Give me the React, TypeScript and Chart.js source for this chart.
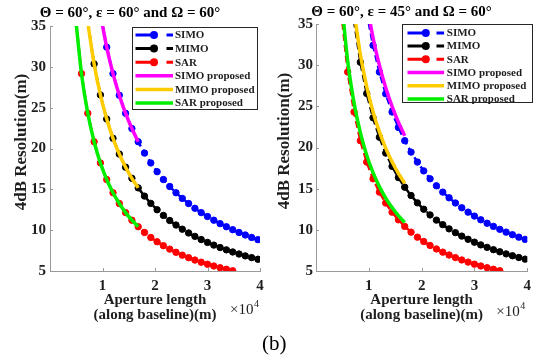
import { useEffect, useRef } from 'react';
import { Chart, registerables } from 'chart.js';

Chart.register(...registerables);

const FONT = '"Liberation Serif", "Times New Roman", serif';
const TEXT = '#1e1e1e';
const AXIS = '#9a9a9a';

// Aperture length along the baseline (×10^4 m)
const apertureLength = [
  0.48, 0.6, 0.72, 0.84, 0.96, 1.08, 1.2, 1.32, 1.44, 1.56, 1.68, 1.8, 1.92, 2.04, 2.16,
  2.28, 2.4, 2.52, 2.64, 2.76, 2.88, 3.0, 3.12, 3.24, 3.36, 3.48, 3.6, 3.72, 3.84, 3.96,
];

// Simulated 4 dB resolution (m); null where the value lies outside the plotted range
const simoResolution = [
  null, null, null, null, 36.46, 32.41, 29.17, 26.52, 24.31, 22.44, 20.83, 19.44, 18.23, 17.16, 16.2,
  15.35, 14.58, 13.89, 13.26, 12.68, 12.15, 11.67, 11.22, 10.8, 10.42, 10.06, 9.72, 9.41, 9.11, 8.84,
];
const mimoResolution = [
  null, null, 35.42, 30.36, 26.56, 23.61, 21.25, 19.32, 17.71, 16.35, 15.18, 14.17, 13.28, 12.5, 11.81,
  11.18, 10.63, 10.12, 9.66, 9.24, 8.85, 8.5, 8.17, 7.87, 7.59, 7.33, 7.08, 6.85, 6.64, 6.44,
];
const sarResolution = [
  36.46, 29.17, 24.31, 20.83, 18.23, 16.2, 14.58, 13.26, 12.15, 11.22, 10.42, 9.72, 9.11, 8.58, 8.1,
  7.68, 7.29, 6.94, 6.63, 6.34, 6.08, 5.83, 5.61, 5.4, 5.21, 5.03, null, null, null, null,
];

// Proposed closed-form resolution, ε = 60°
const simoProposedEps60 = [null, null, null, null, 36.46, 32.41, 29.17, 26.52, 24.31, 22.44, 20.83];
const mimoProposedEps60 = [null, null, 35.42, 30.36, 26.56, 23.61, 21.25, 19.32, 17.71, 16.35, 15.18];
const sarProposedEps60 = [36.46, 29.17, 24.31, 20.83, 18.23, 16.2, 14.58, 13.26, 12.15, 11.22, 10.42];

// Proposed closed-form resolution, ε = 45°
const simoProposedEps45 = [null, null, null, null, 37.5, 33.33, 30.0, 27.27, 25.0, 23.08, 21.43];
const mimoProposedEps45 = [null, null, 36.53, 31.31, 27.4, 24.35, 21.92, 19.92, 18.26, 16.86, 15.65];
const sarProposedEps45 = [38.13, 30.5, 25.42, 21.79, 19.06, 16.94, 15.25, 13.86, 12.71, 11.73, 10.89];

const seriesLabels = ['SIMO', 'MIMO', 'SAR', 'SIMO proposed', 'MIMO proposed', 'SAR proposed'];
const seriesColors = ['#0000ff', '#000000', '#ff0000', '#ff00ff', '#ffcc00', '#00ee00'];
const panelTitles = ['Θ = 60°, ε = 60° and Ω = 60°', 'Θ = 60°, ε = 45° and Ω = 60°'];
const xAxisTitle = ['Aperture length', '(along baseline)(m)'];
const yAxisTitle = '4dB Resolution(m)';
const xExponent = '4';
const yMin = 5;
const yMax = 35;
const yStep = 5;
const xMin = 0;
const xMax = 4;
const xStep = 1;

const toPoints = (values: (number | null)[]) =>
  values
    .map((v, i) => ({ x: apertureLength[i], y: v }))
    .filter((p) => p.y !== null) as { x: number; y: number }[];

// Short tick marks drawn inward from the axes
const innerTicks = {
  id: 'innerTicks',
  afterDatasetsDraw(chart: any) {
    const { ctx, chartArea: a, scales } = chart;
    const x = scales.x;
    const y = scales.y;
    ctx.save();
    ctx.strokeStyle = AXIS;
    ctx.lineWidth = 1;
    ctx.beginPath();
    x.ticks.forEach((t: any) => {
      const px = Math.round(x.getPixelForValue(t.value)) + 0.5;
      ctx.moveTo(px, a.bottom);
      ctx.lineTo(px, a.bottom - 3);
    });
    y.ticks.forEach((t: any) => {
      const py = Math.round(y.getPixelForValue(t.value)) + 0.5;
      ctx.moveTo(a.left, py);
      ctx.lineTo(a.left + 3, py);
    });
    ctx.stroke();
    ctx.restore();
  },
};

// Boxed legend inside the axes: marker series show "line–dot  dash", fitted curves a solid bar
const figureLegend = {
  id: 'figureLegend',
  afterDatasetsDraw(chart: any, _args: any, o: any) {
    const { ctx, chartArea: a } = chart;
    const bx = Math.round(a.left + o.dx) + 0.5;
    const by = Math.round(a.top + o.dy) + 0.5;
    ctx.save();
    ctx.fillStyle = '#ffffff';
    ctx.fillRect(bx, by, o.w, o.h);
    ctx.strokeStyle = '#262626';
    ctx.lineWidth = 1;
    ctx.strokeRect(bx, by, o.w, o.h);
    ctx.font = `bold 11px ${FONT}`;
    ctx.textBaseline = 'middle';
    ctx.textAlign = 'left';
    chart.data.datasets.forEach((ds: any, i: number) => {
      const yy = by + o.row0 + i * o.rowGap;
      const c = ds.borderColor;
      ctx.strokeStyle = c;
      ctx.fillStyle = c;
      ctx.lineCap = 'butt';
      if (ds.pointRadius > 0) {
        ctx.lineWidth = 3;
        ctx.beginPath();
        ctx.moveTo(bx + o.lineStart, yy);
        ctx.lineTo(bx + o.dotX, yy);
        ctx.moveTo(bx + o.dashStart, yy);
        ctx.lineTo(bx + o.lineEnd, yy);
        ctx.stroke();
        ctx.beginPath();
        ctx.arc(bx + o.dotX, yy, 4, 0, Math.PI * 2);
        ctx.fill();
      } else {
        ctx.lineWidth = 3.5;
        ctx.beginPath();
        ctx.moveTo(bx + o.lineStart, yy);
        ctx.lineTo(bx + o.lineEnd, yy);
        ctx.stroke();
      }
      ctx.fillStyle = TEXT;
      ctx.fillText(ds.label, bx + o.textX, yy + 0.5);
    });
    ctx.restore();
  },
};

// "×10^4" multiplier under the right end of the x axis
const exponentLabel = {
  id: 'exponentLabel',
  afterDraw(chart: any, _args: any, o: any) {
    const { ctx, chartArea: a } = chart;
    ctx.save();
    ctx.fillStyle = TEXT;
    ctx.textAlign = 'left';
    ctx.textBaseline = 'alphabetic';
    ctx.font = `15px ${FONT}`;
    const x0 = a.right + o.dx;
    const base = a.bottom + o.dy;
    ctx.fillText('×10', x0, base);
    const w = ctx.measureText('×10').width;
    ctx.font = `10px ${FONT}`;
    ctx.fillText(xExponent, x0 + w + 0.5, base - 7);
    ctx.restore();
  },
};

// Rotated y-axis title, placed by its centre
const yAxisLabel = {
  id: 'yAxisLabel',
  afterDraw(chart: any, _args: any, o: any) {
    const { ctx } = chart;
    ctx.save();
    ctx.translate(o.cx, o.cy);
    ctx.rotate(-Math.PI / 2);
    ctx.fillStyle = TEXT;
    ctx.font = `bold 17px ${FONT}`;
    ctx.textAlign = 'center';
    ctx.textBaseline = 'middle';
    ctx.fillText(yAxisTitle, 0, 0);
    ctx.restore();
  },
};

type Panel = {
  title: string;
  proposed: (number | null)[][];
  yAxisWidth: number;
  padRight: number;
  titlePad: number;
  yTickPad: number;
  yLabel: { cx: number; cy: number };
  legend: any;
  exponent: any;
};

function makeConfig(p: Panel): any {
  const measured = [simoResolution, mimoResolution, sarResolution];
  const datasets: any[] = [];
  measured.forEach((vals, i) => {
    datasets.push({
      label: seriesLabels[i],
      data: toPoints(vals),
      borderColor: seriesColors[i],
      backgroundColor: seriesColors[i],
      pointBackgroundColor: seriesColors[i],
      pointBorderColor: seriesColors[i],
      borderWidth: 2.5,
      borderDash: [7, 4],
      pointRadius: 3.2,
      pointBorderWidth: 1,
      tension: 0,
      order: 1,
    });
  });
  p.proposed.forEach((vals, i) => {
    datasets.push({
      label: seriesLabels[i + 3],
      data: toPoints(vals),
      borderColor: seriesColors[i + 3],
      backgroundColor: seriesColors[i + 3],
      borderWidth: 3.5,
      pointRadius: 0,
      cubicInterpolationMode: 'monotone',
      order: 0,
    });
  });

  const tickFont = { family: FONT, size: 15, weight: 'bold' as const };

  return {
    type: 'line',
    data: { datasets },
    plugins: [innerTicks, figureLegend, exponentLabel, yAxisLabel],
    options: {
      animation: false,
      responsive: false,
      events: [],
      layout: { padding: { left: 0, right: p.padRight, top: 0, bottom: 0 } },
      plugins: {
        legend: { display: false },
        tooltip: { enabled: false },
        title: {
          display: true,
          text: p.title,
          color: '#000',
          font: { family: FONT, size: 15, weight: 'bold' },
          padding: { top: p.titlePad, bottom: p.titlePad },
        },
        figureLegend: p.legend,
        exponentLabel: p.exponent,
        yAxisLabel: p.yLabel,
      },
      scales: {
        x: {
          type: 'linear',
          min: xMin,
          max: xMax,
          afterFit: (s: any) => {
            s.height = 74;
          },
          ticks: {
            stepSize: xStep,
            color: TEXT,
            font: tickFont,
            padding: 6,
            maxRotation: 0,
            callback: (v: number) => (v === 0 ? '' : String(v)),
          },
          grid: { display: true, drawOnChartArea: false, drawTicks: false },
          border: { display: true, color: AXIS, width: 1 },
          title: {
            display: true,
            text: xAxisTitle,
            color: TEXT,
            font: { family: FONT, size: 15, weight: 'bold', lineHeight: 1.0 },
            padding: { top: 0, bottom: 22.5 },
          },
        },
        y: {
          type: 'linear',
          min: yMin,
          max: yMax,
          afterFit: (s: any) => {
            s.width = p.yAxisWidth;
          },
          ticks: {
            stepSize: yStep,
            color: TEXT,
            font: tickFont,
            padding: p.yTickPad,
          },
          grid: { display: true, drawOnChartArea: false, drawTicks: false },
          border: { display: true, color: AXIS, width: 1 },
          title: { display: false },
        },
      },
    },
  };
}

const leftPanel: Panel = {
  title: panelTitles[0],
  proposed: [simoProposedEps60, mimoProposedEps60, sarProposedEps60],
  yAxisWidth: 50,
  padRight: 10,
  titlePad: 4,
  yTickPad: 4,
  yLabel: { cx: 22, cy: 142 },
  legend: {
    dx: 82, dy: 1, w: 125, h: 82, row0: 7.5, rowGap: 13.6,
    lineStart: 3, dotX: 21.5, dashStart: 34, lineEnd: 40.5, textX: 42.5,
  },
  exponent: { dx: -30, dy: 43 },
};

const rightPanel: Panel = {
  title: panelTitles[1],
  proposed: [simoProposedEps45, mimoProposedEps45, sarProposedEps45],
  yAxisWidth: 46,
  padRight: 4,
  titlePad: 3,
  yTickPad: 3,
  yLabel: { cx: 15, cy: 141 },
  legend: {
    dx: 85.5, dy: -0.5, w: 130, h: 78, row0: 8.4, rowGap: 13.2,
    lineStart: 5, dotX: 23.3, dashStart: 34, lineEnd: 41.6, textX: 44.3,
  },
  exponent: { dx: -31, dy: 45 },
};

function ResolutionPanel({ panel, width, height }: { panel: Panel; width: number; height: number }) {
  const ref = useRef<HTMLCanvasElement | null>(null);
  useEffect(() => {
    if (!ref.current) return;
    const chart = new Chart(ref.current, makeConfig(panel));
    return () => chart.destroy();
  }, [panel]);
  return <canvas ref={ref} width={width} height={height} style={{ width, height, display: 'block' }} />;
}

export default function App() {
  return (
    <div
      style={{
        position: 'fixed',
        left: 0,
        top: 0,
        width: 537,
        height: 361,
        background: '#ffffff',
        overflow: 'hidden',
      }}
    >
      <div style={{ position: 'absolute', left: 0, top: 0 }}>
        <ResolutionPanel panel={leftPanel} width={270} height={345} />
      </div>
      <div style={{ position: 'absolute', left: 270, top: 0 }}>
        <ResolutionPanel panel={rightPanel} width={267} height={345} />
      </div>
      <div
        style={{
          position: 'absolute',
          left: 262,
          top: 333,
          fontFamily: FONT,
          fontSize: 21,
          lineHeight: '21px',
          color: '#000',
          whiteSpace: 'nowrap',
        }}
      >
        (b)
      </div>
    </div>
  );
}
